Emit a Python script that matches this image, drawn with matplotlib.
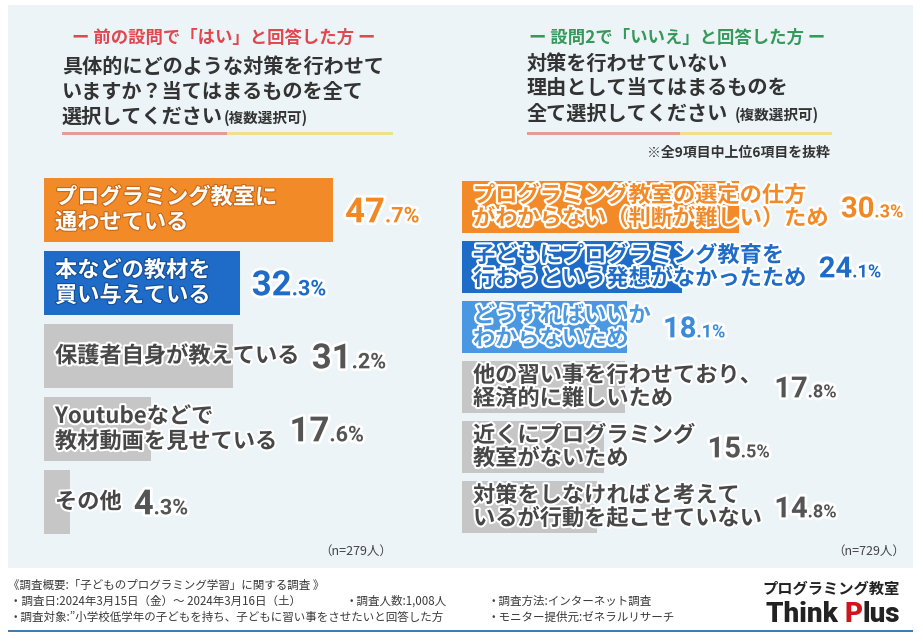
import matplotlib
matplotlib.use('Agg')
import matplotlib.pyplot as plt
import matplotlib.patheffects as pe
from matplotlib.patches import Rectangle
from matplotlib.transforms import IdentityTransform, offset_copy

plt.rcParams['font.family'] = ['Noto Sans CJK JP', 'DejaVu Sans']

W, H = 923, 643

# ---- data ----
left_labels = ['プログラミング教室に\n通わせている', '本などの教材を\n買い与えている', '保護者自身が教えている',
               'Youtubeなどで\n教材動画を見せている', 'その他']
left_values = [47.7, 32.3, 31.2, 17.6, 4.3]
right_labels = ['プログラミング教室の選定の仕方\nがわからない（判断が難しい）ため',
                '子どもにプログラミング教育を\n行おうという発想がなかったため',
                'どうすればいいか\nわからないため',
                '他の習い事を行わせており、\n経済的に難しいため',
                '近くにプログラミング\n教室がないため',
                '対策をしなければと考えて\nいるが行動を起こせていない']
right_values = [30.3, 24.1, 18.1, 17.8, 15.5, 14.8]
left_n = '（n=279人）'
right_n = '（n=729人）'

ORANGE = '#F28A27'
BLUE = '#1E6CC7'
LBLUE = '#4A97E2'
GRAY = '#C6C6C6'
left_colors = [ORANGE, BLUE, GRAY, GRAY, GRAY]
right_colors = [ORANGE, BLUE, LBLUE, GRAY, GRAY, GRAY]
edge_of = {ORANGE: '#C8691A', BLUE: '#154E97', LBLUE: '#2C6DB5'}
value_color = {ORANGE: '#F08826', BLUE: '#1E6CC7', LBLUE: '#3A8BDC', GRAY: '#555555'}

fig = plt.figure(figsize=(W / 100, H / 100), dpi=100)
fig.patch.set_facecolor('white')
ident = IdentityTransform()


def px(x, y):
    # top-left pixel coords -> display coords
    return x, H - y


# background panel
fig.add_artist(Rectangle(px(8, 568), 905, 563, transform=ident, facecolor='#EDF4F8', edgecolor='none', zorder=-5))


def draw_chart(x0, y0, y1, width, scale, labels, values, colors, fs_label, fs_value, lsp, white_inside):
    n = len(values)
    ax = fig.add_axes([x0 / W, 1 - y1 / H, width / W, (y1 - y0) / H])
    ax.set_xlim(0, width / scale)
    ax.set_ylim(n - 0.5, -0.5)
    ax.axis('off')
    bars = ax.barh(range(n), values, height=0.88, color=colors)
    shift = offset_copy(ax.transData, fig=fig, x=11, y=0, units='dots')
    texts = []
    for i, (lab, bar, c) in enumerate(zip(labels, bars, colors)):
        if c == GRAY:
            col, fx = '#474747', [pe.withStroke(linewidth=3, foreground='white')]
        elif white_inside:
            col, fx = 'white', [pe.withStroke(linewidth=1.6, foreground=edge_of[c])]
        else:
            col, fx = c, [pe.withStroke(linewidth=3.2, foreground='white')]
        t = ax.text(0, i, lab, transform=shift, va='center', ha='left', fontsize=fs_label,
                    fontweight='bold', color=col, linespacing=lsp, path_effects=fx)
        texts.append(t)
    fig.canvas.draw()
    r = fig.canvas.get_renderer()
    size_px = fs_value * 100 / 72
    for i, (t, v, c) in enumerate(zip(texts, values, colors)):
        ext = t.get_window_extent(r)
        bar_end = ax.transData.transform((v, i))[0]
        xs = max(ext.x1, bar_end) + 12
        yc = ax.transData.transform((0, i))[1]
        yb = yc - 0.355 * size_px
        s = f'{v:.1f}'
        ip, dp = s.split('.')
        stroke = [pe.withStroke(linewidth=4, foreground='white')]
        big = fig.text(xs, yb, ip, transform=ident, fontsize=fs_value, family='Roboto',
                       fontweight='bold', color=value_color[c], va='baseline', path_effects=stroke)
        bx = big.get_window_extent(r).x1
        fig.text(bx, yb, '.' + dp + '%', transform=ident, fontsize=fs_value * 0.62, family='Roboto',
                 fontweight='bold', color=value_color[c], va='baseline', path_effects=stroke)
    return ax


draw_chart(44, 173.5, 538.5, 400, 6.06, left_labels, left_values, left_colors, 16, 25, 1.12, True)
draw_chart(462, 177, 537, 450, 9.14, right_labels, right_values, right_colors, 16, 21, 1.0, False)

# ---- headers ----
fig.text(*px(224, 38), 'ー 前の設問で「はい」と回答した方 ー', transform=ident, ha='center', va='center',
         fontsize=12.5, fontweight='bold', color='#E0474F')
fig.text(*px(677, 38), 'ー 設問2で「いいえ」と回答した方 ー', transform=ident, ha='center', va='center',
         fontsize=12.5, fontweight='bold', color='#35995A')

qcol = '#333333'
for y, s in [(66, '具体的にどのような対策を行わせて'), (91, 'いますか？当てはまるものを全て')]:
    fig.text(*px(62, y), s, transform=ident, va='center', fontsize=14.5, fontweight='bold', color=qcol)
t = fig.text(*px(62, 116), '選択してください', transform=ident, va='center', fontsize=14.5,
             fontweight='bold', color=qcol)
fig.canvas.draw()
r = fig.canvas.get_renderer()
fig.text(t.get_window_extent(r).x1 + 1, H - 118, '(複数選択可)', transform=ident, va='center', fontsize=10.5,
         fontweight='bold', color=qcol)

for y, s in [(63, '対策を行わせていない'), (88, '理由として当てはまるものを')]:
    fig.text(*px(527, y), s, transform=ident, va='center', fontsize=14.5, fontweight='bold', color=qcol)
t = fig.text(*px(527, 113), '全て選択してください', transform=ident, va='center', fontsize=14.5,
             fontweight='bold', color=qcol)
fig.canvas.draw()
fig.text(t.get_window_extent(r).x1 + 6, H - 115, '(複数選択可)', transform=ident, va='center', fontsize=10.5,
         fontweight='bold', color=qcol)

# underline bars
for xa, xb, xc in [(62, 227, 393), (527, 680, 832)]:
    fig.add_artist(Rectangle(px(xa, 135), xb - xa, 3.5, transform=ident, facecolor='#E8999C', edgecolor='none'))
    fig.add_artist(Rectangle(px(xb, 135), xc - xb, 3.5, transform=ident, facecolor='#EEE08E', edgecolor='none'))

fig.text(*px(830, 153), '※全9項目中上位6項目を抜粋', transform=ident, ha='right', va='center',
         fontsize=10, fontweight='bold', color='#333333')

fig.text(*px(392, 551), left_n, transform=ident, ha='right', va='center', fontsize=9, color='#444444')
fig.text(*px(905, 551), right_n, transform=ident, ha='right', va='center', fontsize=9, color='#444444')

# ---- footer ----
fcol = '#3a3a3a'
ffs = 8.3
fig.text(*px(8, 585), '《調査概要:「子どものプログラミング学習」に関する調査 》', transform=ident, va='center',
         fontsize=ffs, color=fcol)
fig.text(*px(10, 601), '・調査日:2024年3月15日（金）～ 2024年3月16日（土）', transform=ident, va='center',
         fontsize=ffs, color=fcol)
fig.text(*px(345, 601), '・調査人数:1,008人', transform=ident, va='center', fontsize=ffs, color=fcol)
fig.text(*px(488, 601), '・調査方法:インターネット調査', transform=ident, va='center', fontsize=ffs, color=fcol)
fig.text(*px(10, 617), '・調査対象:”小学校低学年の子どもを持ち、子どもに習い事をさせたいと回答した方',
         transform=ident, va='center', fontsize=ffs, color=fcol)
fig.text(*px(488, 617), '・モニター提供元:ゼネラルリサーチ', transform=ident, va='center', fontsize=ffs, color=fcol)

fig.text(*px(900, 589), 'プログラミング教室', transform=ident, ha='right', va='center', fontsize=11,
         fontweight='bold', color='#222222')
tp = fig.text(*px(900, 622), 'lus', transform=ident, ha='right', va='baseline', fontsize=20,
              family='Roboto', fontweight='black', color='#222222')
fig.canvas.draw()
x_lus = tp.get_window_extent(r).x0
tp2 = fig.text(x_lus, H - 622, 'P', transform=ident, ha='right', va='baseline', fontsize=20,
               family='Roboto', fontweight='black', color='#D0141C')
fig.canvas.draw()
fig.text(tp2.get_window_extent(r).x0, H - 622, 'Think ', transform=ident, ha='right', va='baseline',
         fontsize=20, family='Roboto', fontweight='black', color='#222222')

fig.add_artist(Rectangle(px(8, 632), 905, 2, transform=ident, facecolor='#3D7DB3', edgecolor='none'))

fig.savefig('out.png', dpi=100)
